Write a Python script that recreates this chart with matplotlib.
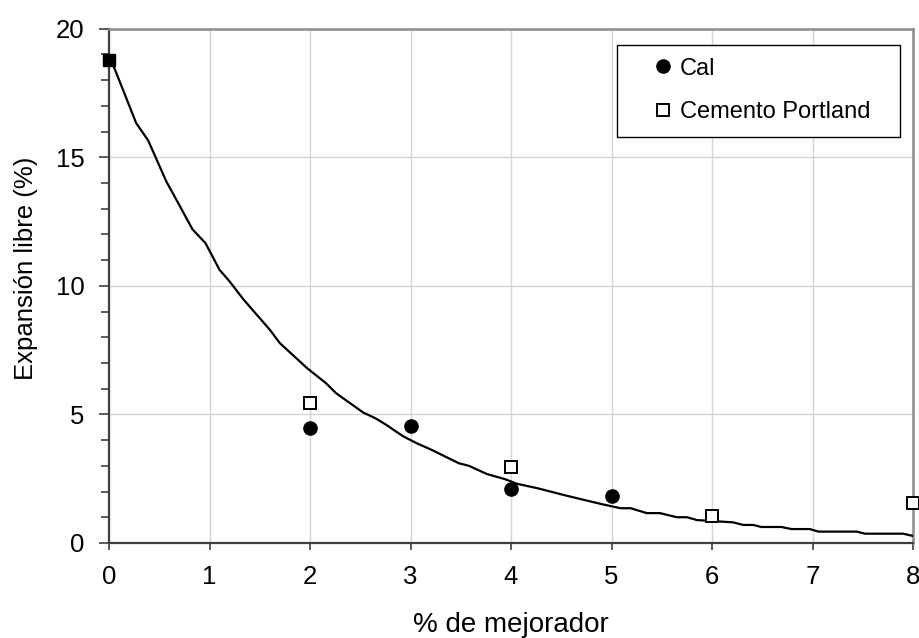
import matplotlib
matplotlib.use("Agg")
import matplotlib.pyplot as plt
from matplotlib.ticker import MultipleLocator
from matplotlib.patches import Rectangle

plt.rcParams['font.family'] = ['Liberation Sans', 'DejaVu Sans']

# Data
cal_x = [2, 3, 4, 5]
cal_y = [4.46, 4.56, 2.10, 1.83]
cem_x = [2, 4, 6, 8]
cem_y = [5.46, 2.97, 1.05, 1.57]
both_x = [0]
both_y = [18.8]

curve_x = [0, 0.04, 0.27, 0.39, 0.57, 0.67, 0.83, 0.96, 1.10, 1.20, 1.34, 1.60,
           1.70, 1.97, 2.16, 2.26, 2.53, 2.65, 2.76, 2.83, 2.93, 3.06, 3.21, 3.48,
           3.58, 3.76, 3.94, 4.06, 4.26, 4.56, 4.89, 5.09, 5.19, 5.35, 5.48, 5.65,
           5.75, 5.85, 6.21, 6.31, 6.41, 6.49, 6.69, 6.79, 6.97, 7.06, 7.44, 7.52,
           7.90, 8.0]
curve_y = [18.8, 18.6, 16.33, 15.65, 14.06, 13.35, 12.2, 11.66, 10.62, 10.17, 9.46,
           8.29, 7.77, 6.80, 6.21, 5.82, 5.07, 4.85, 4.59, 4.40, 4.14, 3.88, 3.62,
           3.10, 3.0, 2.68, 2.48, 2.30, 2.13, 1.83, 1.52, 1.35, 1.35, 1.16, 1.16,
           1.0, 1.0, 0.89, 0.80, 0.70, 0.70, 0.62, 0.62, 0.54, 0.54, 0.44, 0.44,
           0.36, 0.36, 0.27]

x_ticks = [0, 1, 2, 3, 4, 5, 6, 7, 8]
y_ticks = [0, 5, 10, 15, 20]

fig = plt.figure(figsize=(9.2, 6.38), dpi=100)
ax = fig.add_axes([0.1185, 0.149, 0.874, 0.806])

ax.plot(curve_x, curve_y, color='black', lw=1.6, zorder=3)
ax.plot(cal_x, cal_y, 'o', color='black', ms=9.5, ls='none', label='Cal', zorder=4, clip_on=False)
ax.plot(cem_x, cem_y, 's', mfc='white', mec='black', mew=1.4, ms=8, ls='none',
        label='Cemento Portland', zorder=5, clip_on=False)
ax.plot(both_x, both_y, 's', color='black', ms=9.3, ls='none', zorder=6, clip_on=False)

ax.set_xlim(0, 8)
ax.set_ylim(0, 20)
ax.set_xticks(x_ticks)
ax.set_yticks(y_ticks)
ax.yaxis.set_minor_locator(MultipleLocator(1))
ax.tick_params(axis='both', which='major', labelsize=18.5, direction='out', color='#404040')
ax.tick_params(axis='y', which='major', length=7.2, width=1.2, pad=10.5)
ax.tick_params(axis='y', which='minor', length=5.5, width=1.2, color='#404040')
ax.tick_params(axis='x', which='major', length=5, width=1.2, pad=11)
ax.tick_params(top=False, right=False)

ax.grid(True, which='major', color='#d4d4d4', lw=1)
ax.set_axisbelow(True)

for s in ['left', 'bottom']:
    ax.spines[s].set_color('#404040')
    ax.spines[s].set_linewidth(1.6)
for s in ['top', 'right']:
    ax.spines[s].set_color('#8c8c8c')
    ax.spines[s].set_linewidth(1.8)

ax.set_xlabel('% de mejorador', fontsize=20)
ax.xaxis.set_label_coords(0.5, -0.134)
ax.set_ylabel('Expansión libre (%)', fontsize=18.5)
ax.yaxis.set_label_coords(-0.088, 0.535)

# legend frame drawn separately
frame = Rectangle((0.632, 0.790), 0.9838 - 0.632, 0.969 - 0.790, transform=ax.transAxes,
                  facecolor='white', edgecolor='black', lw=1.0, zorder=7)
ax.add_patch(frame)
leg = ax.legend(loc='upper left', bbox_to_anchor=(0.6716, 0.944), fontsize=17,
                frameon=False, borderpad=0, handletextpad=0.1, labelspacing=0.93,
                handlelength=1.2, borderaxespad=0)
leg.set_zorder(8)

fig.savefig('out.png', dpi=100)
